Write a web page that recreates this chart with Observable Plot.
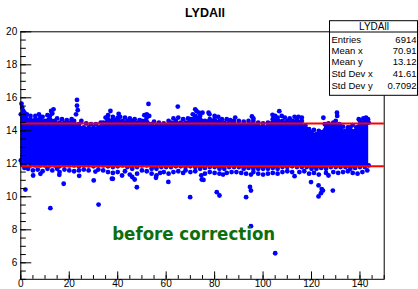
<!DOCTYPE html>
<html><head><meta charset="utf-8">
<script src="https://cdn.jsdelivr.net/npm/d3@7"></script>
<script src="https://cdn.jsdelivr.net/npm/@observablehq/plot@0.6"></script>
<style>html,body{margin:0;padding:0;background:#fff;overflow:hidden}svg{display:block}</style>
</head><body><div id="chart"></div>
<script>
const title = "LYDAll";
const label = "before correction";
const statsRows = [["Entries","6914"],["Mean x","70.91"],["Mean y","13.12"],["Std Dev x","41.61"],["Std Dev y","0.7092"]];
const cuts = [14.45, 11.85];
const xMajor = [0,20,40,60,80,100,120,140];
const yMajor = [6,8,10,12,14,16,18,20];

// dense core of the scatter: upper / lower edge read per x
const bandX  = [0,2,4,6,8,10,12,14,16,18,20,22,24,26,28,30,32,34,36,38,40,42,44,46,48,50,52,54,56,58,60,62,64,66,68,70,72,74,76,78,80,82,84,86,88,90,92,94,96,98,100,102,104,106,108,110,112,114,116,118,120,122,124,126,128,130,132,134,136,138,140,142,143.6];
const bandHi = [15.0,14.9,14.7,14.7,14.8,14.6,14.9,14.6,14.5,14.5,14.5,14.6,14.4,14.2,14.2,14.2,14.2,14.5,14.7,14.7,14.8,14.6,14.6,14.6,14.5,14.6,14.8,14.4,14.3,14.3,14.3,14.5,14.6,14.5,14.5,14.7,14.9,14.9,14.6,14.7,14.7,14.6,14.5,14.5,14.6,14.4,14.4,14.4,14.6,14.3,14.3,14.3,14.7,14.8,14.6,14.6,14.6,14.7,14.6,14.1,13.9,13.8,13.9,14.3,14.3,14.6,14.2,14.0,14.2,14.0,14.6,14.6,14.5];
const bandLo = [12.2,12.0,11.9,11.9,11.9,11.9,11.9,11.9,11.85,11.9,11.9,11.9,11.85,11.9,11.9,11.85,11.9,11.9,11.85,11.8,11.85,11.9,11.8,11.7,11.8,11.9,11.9,11.7,11.7,11.8,11.8,11.8,11.85,11.85,11.8,11.85,11.8,11.7,11.75,11.8,11.8,11.7,11.7,11.8,11.8,11.8,11.7,11.75,11.7,11.7,11.7,11.7,11.75,11.7,11.8,11.8,11.85,11.8,11.8,11.8,11.7,11.7,11.75,11.7,11.8,11.8,11.8,11.8,11.7,11.75,11.8,11.8,11.9];

const upperFringe = [[0.3,15.64],[0.6,15.4],[1,15.2],[1.5,15.1],[2.5,15.0],[4,14.9],[6,14.9],[7.5,15.0],[9,14.85],[11,14.95],[12.5,15.2],[13.5,15.3],[13,15.05],[15,14.75],[17,14.7],[19,14.65],[21,14.7],[23.2,15.87],[23.2,15.52],[23.5,15.25],[22.8,15.0],[25,14.6],[27,14.45],[29,14.4],[31,14.4],[33,14.5],[35,14.8],[36,14.95],[37,15.2],[38,14.85],[40.4,15.03],[41,14.85],[43,14.8],[45,14.75],[47,14.7],[49,14.65],[51,14.95],[52,15.0],[52.7,15.63],[53,14.9],[55,14.55],[57,14.5],[59,14.45],[61,14.6],[63,14.75],[64.8,15.47],[65,14.8],[67,14.7],[69,14.75],[71,15.0],[72,15.3],[72.5,15.2],[73.5,15.1],[75,15.1],[77.5,15.1],[77.9,15.0],[80,14.9],[81.5,14.85],[83,14.7],[85,14.7],[86.5,14.65],[88.5,14.8],[90,14.6],[92,14.55],[94,14.6],[95.4,14.87],[96,14.75],[98,14.5],[100,14.45],[102,14.5],[103.9,14.97],[105,14.9],[106.7,15.19],[107.7,14.9],[109,14.8],[111,14.75],[113,14.85],[114.6,14.85],[116,14.8],[117.5,14.3],[119,14.1],[121,14.05],[123,14.0],[124.9,14.79],[125.5,14.4],[127,14.45],[129,14.5],[130.5,15.1],[130.6,14.9],[131.5,14.4],[133,14.25],[135,14.2],[137,14.35],[138.5,14.2],[139.5,14.7],[141.4,14.75],[142.5,14.8],[143.3,14.7]];
const lowerFringe = [[0.5,12.0],[1.5,11.75],[3,11.7],[5,11.6],[7,11.65],[9,11.55],[11,11.7],[13,11.6],[15,11.7],[16,11.5],[18,11.65],[20,11.6],[22,11.55],[24.1,11.27],[24,11.6],[26,11.65],[28,11.6],[30.8,11.53],[32,11.65],[34,11.6],[36,11.5],[37.6,11.1],[38,11.45],[40,11.5],[41.8,11.29],[43,11.55],[45,11.35],[46,11.2],[47,11.05],[48,11.4],[50,11.6],[52,11.55],[54,11.4],[55.8,11.15],[56,11.3],[57.5,11.45],[59,11.5],[60.9,10.9],[61,11.4],[63,11.5],[65,11.55],[67,11.45],[68,11.6],[70,11.5],[72,11.55],[74.5,11.3],[75.4,11.02],[76,11.4],[78,11.5],[80,11.45],[82,11.4],[83.5,11.35],[85,11.45],[87,11.5],[89,11.5],[91,11.45],[93,11.4],[95,11.35],[96,11.5],[98,11.4],[100,11.35],[102,11.4],[104,11.45],[106,11.4],[108,11.5],[110,11.55],[112,11.5],[113,11.25],[115,11.5],[117,11.55],[119,11.4],[121,11.45],[123,11.35],[126,11.45],[127,11.29],[129,11.5],[131,11.45],[133,11.5],[135,11.55],[137,11.45],[139,11.4],[141,11.5],[143,11.6]];
const outliers = [[1.9,10.44],[5.1,11.29],[8.1,11.39],[12.2,9.31],[15.9,11.33],[17.7,10.79],[30.1,10.99],[32.1,9.53],[38,11.09],[47.9,10.58],[69.9,9.98],[74.7,11.05],[80.9,10.28],[82,10.08],[93,9.98],[95,10.38],[94.6,10.6],[95,8.22],[105,6.58],[119.8,10.89],[122.9,10.69],[124.2,10.47],[122.9,10.02],[123.9,10.22],[124.7,10.38],[128.8,10.38]];

const band = bandX.map((x,i)=>({x, hi: bandHi[i], lo: bandLo[i]}));
const edgePts = band.flatMap(d=>[[d.x,d.hi],[d.x,d.lo]]);
const pts = [...edgePts, ...upperFringe, ...lowerFringe, ...outliers];
const xMinor = d3.range(0, 151, 5);
const yMinor = d3.range(5, 20.01, 0.5);
const blue = "#0000ff";

const W = 418, H = 289, mL = 20.3, mR = 34.3, mT = 31.3, mB = 10.2;
const plot = Plot.plot({
  width: W, height: H,
  marginLeft: mL, marginRight: mR, marginTop: mT, marginBottom: mB,
  style: {fontFamily: "'Liberation Sans', Arial, sans-serif", fontSize: "10px", background: "#fff", overflow: "visible"},
  x: {domain: [0,150], label: null},
  y: {domain: [5,20], label: null},
  marks: [
    Plot.areaY(band, {x: "x", y1: "lo", y2: "hi", fill: blue}),
    Plot.dot(pts, {x: d=>d[0], y: d=>d[1], r: 2.4, fill: blue}),
    Plot.ruleY(cuts, {stroke: "#ff0000", strokeWidth: 2}),
    Plot.frame({stroke: "#000", strokeWidth: 1}),
    Plot.axisX({ticks: xMinor, tickSize: -3.7, tickFormat: () => "", stroke: "#000", label: null}),
    Plot.axisX({ticks: xMajor, tickSize: -7.4, tickPadding: 8.4, tickFormat: d => String(d), fill: "#000", stroke: "#000", fontSize: 10, label: null}),
    Plot.axisY({ticks: yMinor, tickSize: -5.5, tickFormat: () => "", stroke: "#000", label: null}),
    Plot.axisY({ticks: yMajor, tickSize: -11, tickPadding: 14.6, tickFormat: d => String(d), fill: "#000", stroke: "#000", fontSize: 10, label: null}),
    Plot.text([label], {frameAnchor: "bottom-left", dx: 91.4, dy: -39, textAnchor: "start", lineAnchor: "bottom", fill: "#0c6e0c", fontSize: 18.5, fontWeight: "bold", fontFamily: "'DejaVu Sans Condensed', 'DejaVu Sans', sans-serif"}),
    Plot.text([title], {frameAnchor: "top", dx: 2.5, dy: -19, lineAnchor: "middle", fill: "#000", fontSize: 12.5, fontWeight: "bold"})
  ]
});
document.getElementById("chart").appendChild(plot);

// statistics box
const svg = d3.select(plot);
const g = svg.append("g").attr("font-family", "'Liberation Sans', Arial, sans-serif").attr("font-size", 9.5).attr("fill", "#000").attr("text-anchor", "start");
g.append("rect").attr("x", 329.5).attr("y", 20.7).attr("width", 88).attr("height", 74.6).attr("fill", "#fff").attr("stroke", "#000");
g.append("line").attr("x1", 329.5).attr("x2", 418).attr("y1", 32).attr("y2", 32).attr("stroke", "#000");
g.append("text").attr("x", 374).attr("y", 30).attr("text-anchor", "middle").attr("font-size", 10).text(title);
const baselines = [42.7, 53.9, 65.2, 76.8, 88.7];
statsRows.forEach((r, i) => {
  g.append("text").attr("x", 331.5).attr("y", baselines[i]).attr("text-anchor", "start").text(r[0]);
  g.append("text").attr("x", 416.5).attr("y", baselines[i]).attr("text-anchor", "end").text(r[1]);
});
</script></body></html>
